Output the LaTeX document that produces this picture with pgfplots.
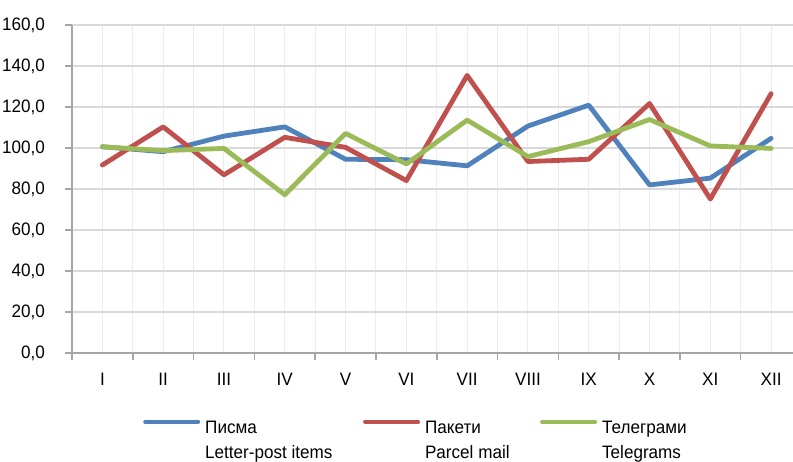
\documentclass[border=0pt]{standalone}
\usepackage{pgfplots}
\pgfplotsset{compat=1.18}
\usepackage{fontspec}
\setmainfont{Liberation Sans}[FakeStretch=0.95]
\definecolor{cblue}{HTML}{4F81BD}
\definecolor{cred}{HTML}{C0504D}
\definecolor{cgreen}{HTML}{9BBB59}
\definecolor{axgray}{HTML}{A6A6A6}
\definecolor{gridmaj}{HTML}{D9D9D9}
\definecolor{gridmin}{HTML}{ECECEC}
\begin{document}
\begin{tikzpicture}
\begin{axis}[
  at={(0,0)}, anchor=south west,
  scale only axis, width=721pt, height=328pt,
  xmin=-0.5, xmax=11.36, ymin=0, ymax=160,
  axis lines*=left,
  axis line style={axgray, line width=2pt},
  xtick={0,...,11},
  xticklabels={I,II,III,IV,V,VI,VII,VIII,IX,X,XI,XII},
  minor xtick={-0.5,0.5,...,11.5},
  ytick={0,20,...,160},
  tick align=outside,
  major tick length=7pt, minor tick length=7pt,
  major x tick style={draw=none},
  minor x tick style={axgray, line width=1.5pt},
  major y tick style={axgray, line width=1.5pt},
  xmajorgrids, xminorgrids, ymajorgrids,
  major x grid style={gridmin, line width=1pt},
  minor x grid style={gridmin, line width=1pt},
  major y grid style={gridmaj, line width=1.5pt},
  /pgf/number format/.cd, fixed, fixed zerofill, precision=1, use comma, assume math mode=true,
  /pgfplots/.cd,
  tick label style={font=\fontsize{18pt}{21pt}\selectfont, text=black, inner sep=0pt},
  yticklabel style={anchor=east, xshift=-20pt},
  xticklabel style={anchor=north, yshift=-12.7pt},
  legend columns=3,
  legend cell align=left,
  legend style={
    draw=none, fill=none, inner sep=0pt,
    at={(axis description cs:0.0985,-0.2028)}, anchor=north west,
    font=\fontsize{18pt}{21pt}\selectfont,
    nodes={inner sep=0pt, text height=13pt, text depth=4pt},
    row sep=7.8pt,
    /tikz/every odd column/.append style={column sep=5pt},
    /tikz/every even column/.append style={column sep=30.5pt},
  },
  legend image code/.code={
    \path[draw=none, fill=none] (0pt,0pt) rectangle (57pt,0.1pt);
    \draw[#1, line width=4pt, line cap=round] (2pt,7.7pt) -- (55pt,7.7pt);
  },
  every axis plot/.append style={line width=4.8pt, line join=round, line cap=round, no markers},
]
\addplot[cblue] coordinates {(0,100.6) (1,98.2) (2,105.8) (3,110.3) (4,94.5) (5,94.3) (6,91.3) (7,110.7) (8,120.9) (9,82.0) (10,85.3) (11,104.7)};
\addlegendentry{Писма}
\addplot[cred] coordinates {(0,91.7) (1,110.3) (2,86.9) (3,105.2) (4,100.3) (5,84.1) (6,135.4) (7,93.4) (8,94.5) (9,121.7) (10,75.1) (11,126.5)};
\addlegendentry{Пакети}
\addplot[cgreen] coordinates {(0,100.6) (1,98.7) (2,99.8) (3,77.2) (4,107.1) (5,92.2) (6,113.6) (7,95.8) (8,103.1) (9,113.9) (10,101.0) (11,99.8)};
\addlegendentry{Телеграми}
\addlegendimage{empty legend}\addlegendentry{Letter-post items}
\addlegendimage{empty legend}\addlegendentry{Parcel mail}
\addlegendimage{empty legend}\addlegendentry{Telegrams}
\end{axis}
\pgfresetboundingbox
\path[use as bounding box] (-72pt,-109pt) rectangle (721pt,353pt);
\end{tikzpicture}
\end{document}
